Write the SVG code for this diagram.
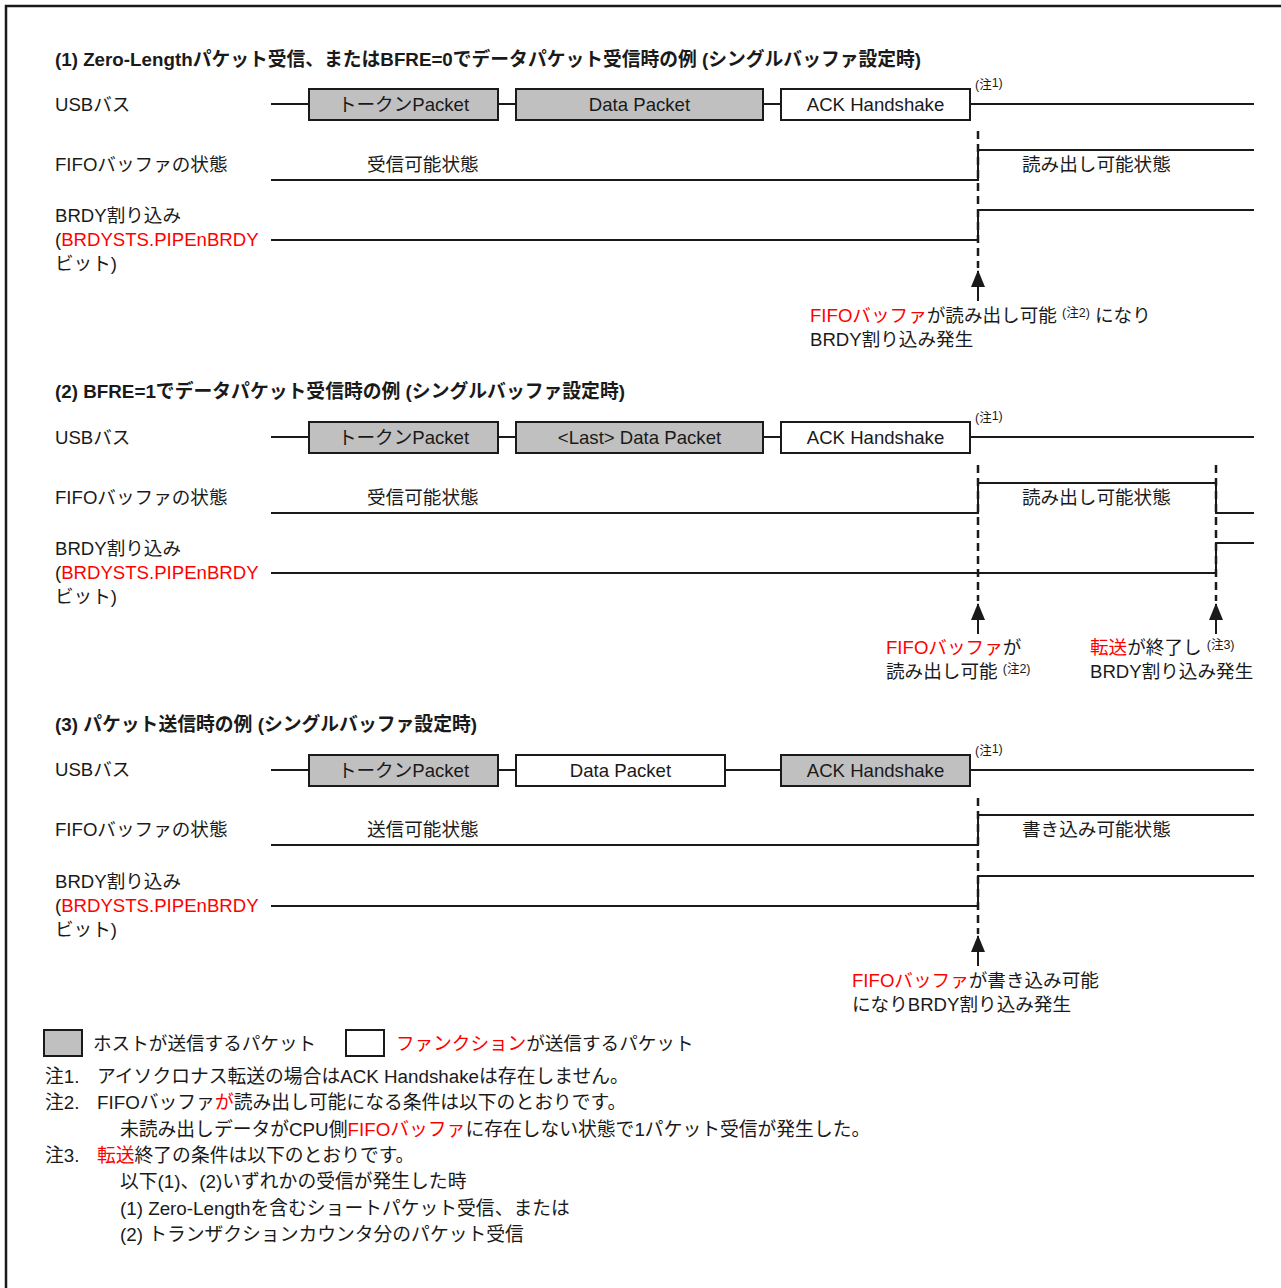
<svg xmlns="http://www.w3.org/2000/svg" width="1281" height="1288" viewBox="0 0 1281 1288">
<defs>
<style>
text{font-family:"Liberation Sans","Noto Sans CJK JP",sans-serif;font-size:18.6px;fill:#1a1a1a}
.t{font-weight:bold;font-size:18.8px}
.n{font-size:18.8px}
.r{fill:#ff0000}
.m{text-anchor:middle}
.s{font-size:12.5px}
.sig{fill:none;stroke:#1a1a1a;stroke-width:2}
.box{stroke:#1a1a1a;stroke-width:2}
.g{fill:#c0c0c0}
.w{fill:#ffffff}
.dash{stroke:#1a1a1a;stroke-width:2.5;stroke-dasharray:8 5;fill:none}
.arr{stroke:#1a1a1a;stroke-width:2;marker-end:url(#ah)}
</style>
<marker id="ah" markerWidth="17" markerHeight="14" refX="16" refY="7" orient="auto" markerUnits="userSpaceOnUse" viewBox="0 0 17 14">
<path d="M0,0 L17,7 L0,14 Z" fill="#1a1a1a"/>
</marker>
</defs>
<rect width="1281" height="1288" fill="#fff"/>
<g id="frame"><path d="M6,1288 V6 H1281" fill="none" stroke="#1a1a1a" stroke-width="2.5"/></g>

<!-- Section 1 -->
<g id="sec1">
<text class="t" x="55" y="66" textLength="866" lengthAdjust="spacingAndGlyphs">(1) Zero-Lengthパケット受信、またはBFRE=0でデータパケット受信時の例 (シングルバッファ設定時)</text>
<text x="55" y="111">USBバス</text>
<text x="55" y="171">FIFOバッファの状態</text>
<text x="55" y="222">BRDY割り込み</text>
<text x="55" y="246">(<tspan class="r">BRDYSTS.PIPEnBRDY</tspan></text>
<text x="55" y="270">ビット)</text>
<g id="s1-token"><rect class="box g" x="309" y="89" width="189" height="31"/><text class="m" x="403.5" y="111">トークンPacket</text></g>
<g id="s1-data"><rect class="box g" x="516" y="89" width="247" height="31"/><text class="m" x="639.5" y="111">Data Packet</text></g>
<g id="s1-ack"><rect class="box w" x="781" y="89" width="189" height="31"/><text class="m" x="875.5" y="111">ACK Handshake</text></g>
<text class="s" x="975" y="89">(注<tspan dy="-2">1)</tspan></text>
<text x="367" y="171">受信可能状態</text>
<text x="1022" y="171">読み出し可能状態</text>
<text x="810" y="322"><tspan class="r">FIFOバッファ</tspan>が読み出し可能 <tspan class="s" dy="-5">(注2)</tspan><tspan dy="5"> になり</tspan></text>
<text x="810" y="346">BRDY割り込み発生</text>
</g>

<!-- Section 2 -->
<g id="sec2">
<text class="t" x="55" y="398" textLength="570" lengthAdjust="spacingAndGlyphs">(2) BFRE=1でデータパケット受信時の例 (シングルバッファ設定時)</text>
<text x="55" y="444">USBバス</text>
<text x="55" y="504">FIFOバッファの状態</text>
<text x="55" y="555">BRDY割り込み</text>
<text x="55" y="579">(<tspan class="r">BRDYSTS.PIPEnBRDY</tspan></text>
<text x="55" y="603">ビット)</text>
<g id="s2-token"><rect class="box g" x="309" y="422" width="189" height="31"/><text class="m" x="403.5" y="444">トークンPacket</text></g>
<g id="s2-data"><rect class="box g" x="516" y="422" width="247" height="31"/><text class="m" x="639.5" y="444">&lt;Last&gt; Data Packet</text></g>
<g id="s2-ack"><rect class="box w" x="781" y="422" width="189" height="31"/><text class="m" x="875.5" y="444">ACK Handshake</text></g>
<text class="s" x="975" y="422">(注<tspan dy="-2">1)</tspan></text>
<text x="367" y="504">受信可能状態</text>
<text x="1022" y="504">読み出し可能状態</text>
<text x="886" y="654"><tspan class="r">FIFOバッファ</tspan>が</text>
<text x="886" y="678">読み出し可能 <tspan class="s" dy="-5">(注2)</tspan></text>
<text x="1090" y="654"><tspan class="r">転送</tspan>が終了し <tspan class="s" dy="-5">(注3)</tspan></text>
<text x="1090" y="678">BRDY割り込み発生</text>
</g>

<!-- Section 3 -->
<g id="sec3">
<text class="t" x="55" y="731" textLength="422" lengthAdjust="spacingAndGlyphs">(3) パケット送信時の例 (シングルバッファ設定時)</text>
<text x="55" y="776">USBバス</text>
<text x="55" y="836">FIFOバッファの状態</text>
<text x="55" y="888">BRDY割り込み</text>
<text x="55" y="912">(<tspan class="r">BRDYSTS.PIPEnBRDY</tspan></text>
<text x="55" y="936">ビット)</text>
<g id="s3-token"><rect class="box g" x="309" y="755" width="189" height="31"/><text class="m" x="403.5" y="777">トークンPacket</text></g>
<g id="s3-data"><rect class="box w" x="516" y="755" width="209" height="31"/><text class="m" x="620.5" y="777">Data Packet</text></g>
<g id="s3-ack"><rect class="box g" x="781" y="755" width="189" height="31"/><text class="m" x="875.5" y="777">ACK Handshake</text></g>
<text class="s" x="975" y="755">(注<tspan dy="-2">1)</tspan></text>
<text x="367" y="836">送信可能状態</text>
<text x="1022" y="836">書き込み可能状態</text>
<text x="852" y="987"><tspan class="r">FIFOバッファ</tspan>が書き込み可能</text>
<text x="852" y="1011">になりBRDY割り込み発生</text>
</g>

<g id="connectors">
<!-- sec1 -->
<path class="sig" d="M271,104 H309 M498,104 H516 M763,104 H781 M970,104 H1254"/>
<polyline class="sig" points="271,180 978,180 978,150 1254,150"/>
<polyline class="sig" points="271,240 978,240 978,210 1254,210"/>
<line class="dash" x1="978" y1="131" x2="978" y2="268"/>
<line class="arr" x1="978" y1="301" x2="978" y2="271"/>
<!-- sec2 -->
<path class="sig" d="M271,437 H309 M498,437 H516 M763,437 H781 M970,437 H1254"/>
<polyline class="sig" points="271,513 978,513 978,483 1216,483 1216,513 1254,513"/>
<polyline class="sig" points="271,573 1216,573 1216,543 1254,543"/>
<line class="dash" x1="978" y1="465" x2="978" y2="601"/>
<line class="dash" x1="1216" y1="465" x2="1216" y2="601"/>
<line class="arr" x1="978" y1="634" x2="978" y2="604"/>
<line class="arr" x1="1216" y1="634" x2="1216" y2="604"/>
<!-- sec3 -->
<path class="sig" d="M271,770 H309 M498,770 H516 M725,770 H781 M970,770 H1254"/>
<polyline class="sig" points="271,845 978,845 978,815 1254,815"/>
<polyline class="sig" points="271,906 978,906 978,876 1254,876"/>
<line class="dash" x1="978" y1="798" x2="978" y2="934"/>
<line class="arr" x1="978" y1="966" x2="978" y2="936"/>
</g>

<g id="legend">
<rect class="box g" x="44" y="1030" width="38" height="26"/>
<text x="93" y="1050">ホストが送信するパケット</text>
<rect class="box w" x="346" y="1030" width="38" height="26"/>
<text x="396" y="1050"><tspan class="r">ファンクション</tspan>が送信するパケット</text>
</g>
<g id="notes">
<text class="n" x="45" y="1083">注1.</text>
<text class="n" x="97" y="1083">アイソクロナス転送の場合はACK Handshakeは存在しません。</text>
<text class="n" x="45" y="1109">注2.</text>
<text class="n" x="97" y="1109">FIFOバッファ<tspan class="r">が</tspan>読み出し可能になる条件は以下のとおりです。</text>
<text class="n" x="120" y="1136">未読み出しデータがCPU側<tspan class="r">FIFOバッファ</tspan>に存在しない状態で1パケット受信が発生した。</text>
<text class="n" x="45" y="1162">注3.</text>
<text class="n" x="97" y="1162"><tspan class="r">転送</tspan>終了の条件は以下のとおりです。</text>
<text class="n" x="120" y="1188">以下(1)、(2)いずれかの受信が発生した時</text>
<text class="n" x="120" y="1215">(1) Zero-Lengthを含むショートパケット受信、または</text>
<text class="n" x="120" y="1241">(2) トランザクションカウンタ分のパケット受信</text>
</g>
</svg>
